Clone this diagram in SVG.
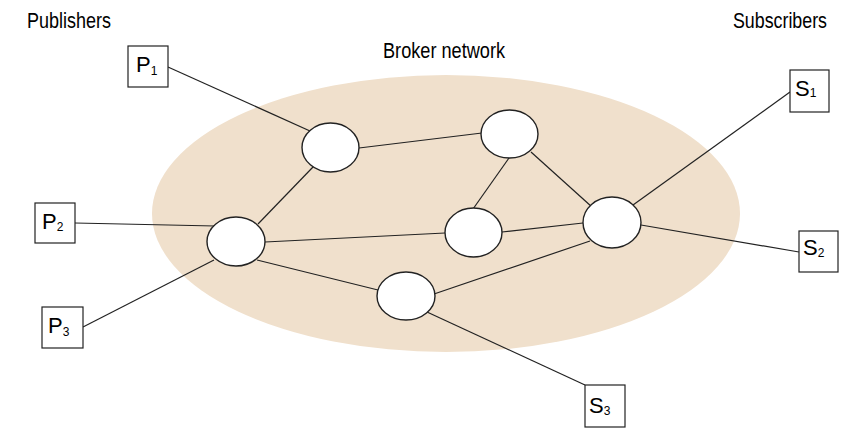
<svg xmlns="http://www.w3.org/2000/svg" width="848" height="436" viewBox="0 0 848 436">
<style>
.lbl{font-family:"Liberation Sans",Arial,sans-serif;fill:#000;}
.title{font-size:22px;}
.box{fill:#fff;stroke:#222;stroke-width:1.2;}
.broker{fill:#fff;stroke:#222;stroke-width:1.4;}
.edge{stroke:#222;stroke-width:1.2;fill:none;}
.main{font-size:22px;}
.sub{font-size:12px;}
</style>
<rect width="848" height="436" fill="#fff"/>
<g id="broker-network">
<ellipse cx="446" cy="213.5" rx="294" ry="138.5" fill="#F0E0CC"/>
<text class="lbl title" x="383" y="58" textLength="122" lengthAdjust="spacingAndGlyphs">Broker network</text>
</g>
<text class="lbl title" x="27" y="28" textLength="84" lengthAdjust="spacingAndGlyphs">Publishers</text>
<text class="lbl title" x="733" y="28" textLength="94" lengthAdjust="spacingAndGlyphs">Subscribers</text>
<g id="connectors">
<line class="edge" x1="168" y1="67" x2="310" y2="131"/>
<line class="edge" x1="75" y1="223" x2="215" y2="226"/>
<line class="edge" x1="83" y1="327" x2="214" y2="260"/>
<line class="edge" x1="359" y1="148" x2="482" y2="133"/>
<line class="edge" x1="258" y1="224" x2="313" y2="167"/>
<line class="edge" x1="265" y1="242" x2="445" y2="233"/>
<line class="edge" x1="257" y1="260" x2="378" y2="290"/>
<line class="edge" x1="509" y1="158" x2="473" y2="209"/>
<line class="edge" x1="531" y1="152" x2="592" y2="207"/>
<line class="edge" x1="502" y1="232" x2="583" y2="223"/>
<line class="edge" x1="434" y1="294" x2="590" y2="241"/>
<line class="edge" x1="633" y1="205" x2="790" y2="92"/>
<line class="edge" x1="641" y1="225" x2="799" y2="252"/>
<line class="edge" x1="427" y1="312" x2="585" y2="385"/>
</g>
<g id="broker-A"><ellipse class="broker" cx="330.5" cy="147.5" rx="28.5" ry="24.5"/></g>
<g id="broker-D"><ellipse class="broker" cx="509.5" cy="134" rx="28.5" ry="24"/></g>
<g id="broker-B"><ellipse class="broker" cx="236" cy="241.5" rx="29" ry="24.5"/></g>
<g id="broker-F"><ellipse class="broker" cx="473.5" cy="232.5" rx="28.5" ry="24.5"/></g>
<g id="broker-E"><ellipse class="broker" cx="612" cy="222.5" rx="29" ry="25.5"/></g>
<g id="broker-C"><ellipse class="broker" cx="406" cy="296" rx="29" ry="24"/></g>
<g id="P1"><rect class="box" x="128" y="46" width="40" height="41"/><text class="lbl main" x="136" y="72">P<tspan class="sub" dy="3">1</tspan></text></g>
<g id="P2"><rect class="box" x="35" y="203" width="40" height="40"/><text class="lbl main" x="42" y="229">P<tspan class="sub" dy="2">2</tspan></text></g>
<g id="P3"><rect class="box" x="42" y="307" width="41" height="41"/><text class="lbl main" x="48" y="333">P<tspan class="sub" dy="3">3</tspan></text></g>
<g id="S1"><rect class="box" x="790" y="70" width="39" height="42"/><text class="lbl main" x="795" y="96">S<tspan class="sub" dy="1">1</tspan></text></g>
<g id="S2"><rect class="box" x="799" y="231" width="39" height="41"/><text class="lbl main" x="803" y="255">S<tspan class="sub" dy="2">2</tspan></text></g>
<g id="S3"><rect class="box" x="585" y="385" width="40" height="42"/><text class="lbl main" x="589" y="413">S<tspan class="sub" dy="2">3</tspan></text></g>
</svg>
